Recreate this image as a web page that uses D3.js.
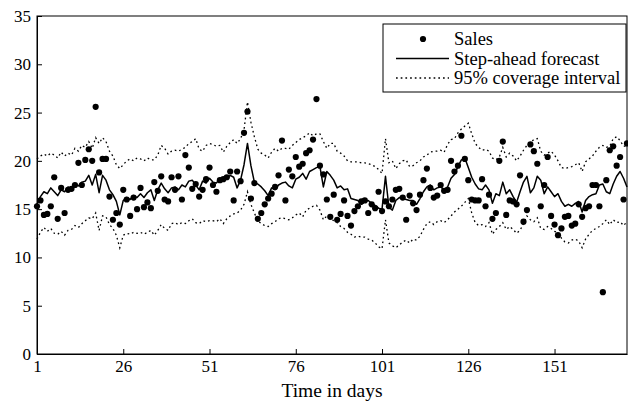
<!DOCTYPE html>
<html>
<head>
<meta charset="utf-8">
<script src="https://cdn.jsdelivr.net/npm/d3@7"></script>
<style>
  html, body { margin: 0; padding: 0; background: #fff; }
  svg { display: block; }
  text { font-family: "Liberation Serif", "DejaVu Serif", serif; fill: #000; }
</style>
</head>
<body>
<svg id="chart" width="628" height="406"></svg>
<script>
// ---- data ----
const days = d3.range(1, 173);
const xTicks = [1, 26, 51, 76, 101, 126, 151];
const yTicks = [0, 5, 10, 15, 20, 25, 30, 35];
const legendLabels = ["Sales", "Step-ahead forecast", "95% coverage interval"];
const xLabel = "Time in days";

const sales = [
  15.3,15.9,14.4,14.5,15.3,18.3,14.0,17.2,14.6,17.0,17.1,17.5,19.8,17.5,20.1,21.2,20.0,25.6,18.8,20.2,
  20.2,16.3,13.9,14.6,13.4,17.0,16.0,14.3,16.2,15.0,17.2,15.2,15.7,15.1,17.8,16.9,18.4,16.0,15.8,18.3,
  17.0,18.4,16.0,20.6,19.3,17.1,17.6,16.3,17.0,18.1,19.3,17.5,16.8,18.0,18.1,18.3,18.9,15.9,18.9,17.9,
  22.9,25.1,16.1,17.7,14.0,14.6,15.5,16.1,16.6,17.3,18.5,22.1,15.9,19.1,18.4,20.4,19.4,19.7,20.8,21.1,
  22.2,26.4,19.5,18.6,16.0,14.2,16.5,13.9,14.5,15.9,14.3,13.3,14.8,15.3,15.8,15.9,14.6,15.5,15.1,16.8,
  14.8,15.8,15.3,16.0,17.0,17.1,16.2,13.9,16.4,15.6,14.9,16.5,18.0,19.2,17.2,16.2,16.4,17.5,16.9,17.0,
  20.0,18.9,19.5,22.6,20.2,18.0,16.0,15.9,15.9,18.1,15.3,16.5,14.0,14.6,20.0,22.0,14.4,15.9,15.8,15.5,
  18.5,13.7,14.9,21.7,21.0,19.7,15.3,17.5,20.4,14.3,13.4,12.3,13.0,14.2,14.3,13.3,13.5,15.5,14.2,15.1,
  15.3,17.5,17.5,15.3,6.4,18.0,21.1,21.5,19.5,20.4,16.0,21.8
];

const forecast = [
  15.5,16.3,16.8,16.6,17.2,16.8,16.4,17.0,16.8,17.3,17.0,17.6,17.4,17.8,17.9,18.5,17.5,18.6,16.7,18.5,
  18.0,17.0,16.5,15.8,14.4,15.9,16.2,16.0,16.4,16.2,16.6,16.2,16.7,17.0,15.9,17.0,17.7,17.1,16.7,17.2,
  17.3,17.0,17.5,17.3,17.9,18.0,17.5,17.0,17.9,17.7,18.2,17.8,17.7,18.2,18.0,18.2,18.5,18.3,17.2,18.0,
  19.6,21.8,19.5,17.8,17.6,17.3,16.9,16.4,17.2,17.0,17.5,17.7,17.8,17.4,17.2,18.1,18.3,18.7,18.1,18.9,
  19.1,19.3,19.4,17.3,18.9,18.5,18.0,17.2,17.4,17.0,17.1,16.1,16.0,15.9,15.5,15.8,15.9,15.6,15.4,15.1,
  15.0,18.4,15.2,14.9,15.9,16.2,16.1,16.0,15.9,15.9,15.5,16.1,16.8,17.3,17.5,17.0,17.2,17.3,17.0,17.3,
  18.2,18.6,19.4,20.1,20.3,19.3,18.3,17.6,17.1,17.0,17.5,17.0,15.6,16.6,16.4,17.8,16.6,17.0,16.3,15.7,
  16.8,17.8,18.4,16.7,17.2,18.4,18.0,16.6,17.3,16.8,16.3,16.6,15.8,15.3,15.5,15.3,15.6,15.8,14.7,15.9,
  16.3,16.5,16.6,17.5,17.6,16.8,16.6,17.6,18.4,18.9,18.2,17.3
];

const upper = [
  20.2,20.5,20.7,20.5,20.8,20.6,20.3,20.9,20.5,20.8,20.6,21.3,21.0,21.6,21.4,22.0,21.3,22.4,21.8,22.4,
  22.0,21.0,20.5,19.6,19.2,19.6,20.0,20.2,20.0,20.3,20.2,20.0,20.3,20.1,20.1,20.6,21.6,21.3,20.7,21.0,
  21.1,21.0,21.2,21.4,21.8,22.0,22.3,21.2,21.0,21.6,21.8,21.7,21.5,21.6,20.9,21.5,21.9,22.2,21.8,22.3,
  23.2,26.1,24.0,22.5,21.2,20.8,20.6,20.3,20.9,21.3,21.0,21.3,21.3,21.2,21.6,21.9,22.2,22.4,22.6,22.9,
  22.6,22.8,22.8,22.0,21.3,21.8,21.8,21.0,20.8,20.5,20.0,19.9,19.9,19.9,19.8,19.8,19.7,19.6,19.4,19.1,
  18.7,22.3,19.8,20.0,19.2,19.7,20.0,20.1,19.4,19.5,19.8,20.0,20.4,20.6,20.9,21.0,21.0,21.1,20.9,21.7,
  22.2,22.3,22.9,23.3,23.6,23.9,22.8,21.8,21.4,21.1,21.2,21.0,20.3,20.1,20.4,21.4,20.4,20.8,20.5,20.0,
  20.5,21.1,21.6,21.9,22.2,22.3,21.0,20.6,20.8,21.0,20.6,20.0,19.3,19.2,19.3,19.4,19.6,19.8,18.9,19.9,
  20.2,20.5,21.0,21.4,21.6,21.4,21.5,22.3,22.5,22.1,21.5,21.6
];

const lower = [
  11.9,12.6,13.1,12.7,13.0,12.5,12.4,12.7,12.3,12.8,12.9,13.3,13.1,13.5,13.8,14.1,14.0,14.6,12.8,14.3,
  14.2,13.4,13.0,12.3,11.0,12.3,12.5,12.4,12.6,12.5,12.6,12.4,12.6,12.8,12.3,12.8,13.4,13.0,12.8,13.5,
  13.6,13.4,13.6,13.5,13.8,14.0,13.6,13.5,13.8,13.7,13.8,13.8,13.7,14.0,13.5,14.0,14.3,14.5,14.6,14.9,
  15.5,16.8,15.5,14.6,13.8,13.5,13.3,13.2,13.5,13.7,14.0,14.1,14.0,13.9,14.1,14.4,14.6,14.2,14.9,15.1,
  15.3,15.4,14.9,13.9,14.3,14.1,13.8,13.6,13.2,13.0,12.6,12.4,12.1,12.2,12.1,12.1,11.9,11.8,11.5,11.1,
  10.9,13.9,11.5,11.2,11.0,11.3,11.6,11.8,11.5,11.9,11.8,12.2,12.9,13.5,13.7,13.4,13.7,13.8,13.6,13.9,
  14.3,14.7,15.0,15.3,15.7,16.1,14.6,13.6,13.3,13.4,13.2,13.6,12.4,12.9,13.2,13.6,12.9,13.2,12.9,12.5,
  12.8,13.5,14.3,13.9,13.7,14.1,13.0,12.9,13.2,13.0,12.7,12.6,12.0,11.6,11.5,11.8,11.9,11.7,11.0,11.9,
  12.4,12.8,13.0,13.2,13.5,13.9,13.4,13.9,13.6,13.7,13.3,13.7
];

// ---- chart ----
const W = 628, H = 406;
const m = { left: 37, right: 1, top: 16, bottom: 52 };
const svg = d3.select("#chart");
const FONT = "Liberation Serif, DejaVu Serif, serif";

const x = d3.scaleLinear().domain([1, 172]).range([m.left, W - m.right]);
const y = d3.scaleLinear().domain([0, 35]).range([H - m.bottom, m.top]);

// frame
svg.append("rect")
  .attr("x", x.range()[0]).attr("y", y.range()[1])
  .attr("width", x.range()[1] - x.range()[0])
  .attr("height", y.range()[0] - y.range()[1])
  .attr("fill", "none").attr("stroke", "#000").attr("stroke-width", 1);

// axes
const xAxis = d3.axisBottom(x).tickValues(xTicks).tickFormat(d3.format("d"))
  .tickSizeInner(-5).tickSizeOuter(0).tickPadding(6);
const gx = svg.append("g").attr("transform", `translate(0,${y(0)})`).call(xAxis)
  .attr("font-family", FONT).attr("font-size", 17);

const yAxis = d3.axisLeft(y).tickValues(yTicks).tickFormat(d3.format("d"))
  .tickSizeInner(-5).tickSizeOuter(0).tickPadding(6);
const gy = svg.append("g").attr("transform", `translate(${x(1)},0)`).call(yAxis)
  .attr("font-family", FONT).attr("font-size", 17);

[gx, gy].forEach(g => {
  g.selectAll("path, line").attr("stroke", "#000").attr("stroke-width", 1);
  g.selectAll("text").attr("fill", "#000");
});

svg.append("text")
  .attr("x", (x.range()[0] + x.range()[1]) / 2)
  .attr("y", 397)
  .attr("text-anchor", "middle")
  .attr("font-family", FONT)
  .attr("font-size", 19.5)
  .text(xLabel);

// series
const line = arr => d3.line().x((d, i) => x(days[i])).y(d => y(d))(arr);
const DOT = "1.7,3";

svg.append("path").attr("d", line(upper))
  .attr("fill", "none").attr("stroke", "#000").attr("stroke-width", 1.3)
  .attr("stroke-dasharray", DOT);
svg.append("path").attr("d", line(lower))
  .attr("fill", "none").attr("stroke", "#000").attr("stroke-width", 1.3)
  .attr("stroke-dasharray", DOT);
svg.append("path").attr("d", line(forecast))
  .attr("fill", "none").attr("stroke", "#000").attr("stroke-width", 1.5)
  .attr("stroke-linejoin", "round");

svg.append("g").selectAll("circle").data(sales).join("circle")
  .attr("cx", (d, i) => x(days[i])).attr("cy", d => y(d))
  .attr("r", 3.1).attr("fill", "#000");

// legend
const lg = svg.append("g").attr("font-family", FONT).attr("font-size", 18.5);
const lx = 383, ly = 24, lw = 243, lh = 68;
lg.append("rect").attr("x", lx).attr("y", ly).attr("width", lw).attr("height", lh)
  .attr("fill", "#fff").attr("stroke", "#000").attr("stroke-width", 1);
const rowY = [39, 58.5, 78];
lg.append("circle").attr("cx", 423).attr("cy", rowY[0]).attr("r", 3.1).attr("fill", "#000");
lg.append("line").attr("x1", 396).attr("x2", 449).attr("y1", rowY[1]).attr("y2", rowY[1])
  .attr("stroke", "#000").attr("stroke-width", 1.5);
lg.append("line").attr("x1", 396).attr("x2", 449).attr("y1", rowY[2]).attr("y2", rowY[2])
  .attr("stroke", "#000").attr("stroke-width", 1.3).attr("stroke-dasharray", DOT);
legendLabels.forEach((t, i) => {
  lg.append("text").attr("x", 454).attr("y", rowY[i]).attr("dy", "0.35em").text(t);
});
</script>
</body>
</html>
